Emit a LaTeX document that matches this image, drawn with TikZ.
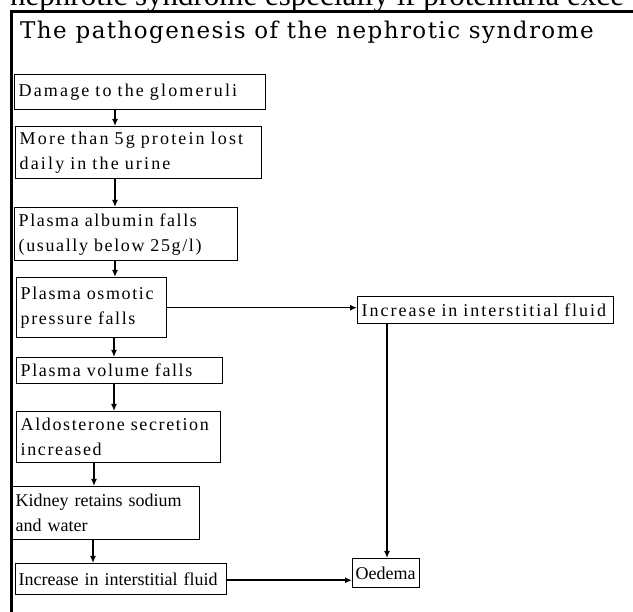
\documentclass[tikz,border=0pt]{standalone}
\usepackage{fontspec}
\setmainfont{Liberation Serif}
\newfontfamily\titlefont[LetterSpace=6.3]{DejaVu Serif}
\newfontfamily\boxfont{Liberation Serif}
\newfontfamily\boxwide[LetterSpace=9]{Liberation Serif}
\newfontfamily\boxwider[LetterSpace=12]{Liberation Serif}
\newfontfamily\boxright[LetterSpace=11]{Liberation Serif}
\usetikzlibrary{arrows.meta}
\begin{document}
\begin{tikzpicture}[x=1pt,y=-1pt,
  box/.style={draw=black, line width=1.4pt, anchor=north west, inner ysep=0pt, inner xsep=4pt,
    align=left, font=\boxfont\fontsize{18}{25}\selectfont},
  wide/.style={font=\boxwide\fontsize{18}{25}\selectfont},
  wider/.style={font=\boxwider\fontsize{18}{25}\selectfont},
  rightfont/.style={font=\boxright\fontsize{18}{25}\selectfont},
  arr/.style={line width=1.4pt, -{Latex[length=7pt,width=6pt]}},
  frame/.style={line width=2.5pt}]
\useasboundingbox (0,0) rectangle (633,612);
\clip (0,0) rectangle (633,612);
% cut-off text line at the top
\node[anchor=base west, inner sep=0pt, font=\fontsize{31}{36}\selectfont] (toptext) at (10,6)
  {nephrotic syndrome especially if proteinuria exce};
% frame
\draw[frame] (11.5,650) -- (11.5,11.5) -- (660,11.5);
% title
\node[anchor=base west, inner sep=0pt, font=\titlefont\fontsize{23}{27}\selectfont] (title) at (20,39)
  {The pathogenesis of the nephrotic syndrome};
% left column
\node[box, wider, text width=243pt, minimum height=35pt] (b1) at (14,74) {\mbox{Damage to the glomeruli}};
\node[box, wider, text width=238pt, minimum height=52pt] (b2) at (15,126) {\mbox{More than 5g protein lost}\\daily in the urine};
\node[box, wide, text width=215pt, minimum height=53pt] (b3) at (14,207) {Plasma albumin falls\\(usually below 25g/l)};
\node[box, wide, text width=142pt, minimum height=60pt] (b4) at (16,277) {\mbox{Plasma osmotic}\\pressure falls};
\node[box, wide, text width=198pt, minimum height=26pt] (b5) at (16,357) {Plasma volume falls};
\node[box, wide, text width=196pt, minimum height=51pt] (b6) at (16,411) {\mbox{Aldosterone secretion}\\increased};
\node[box, text width=180pt, minimum height=53pt] (b7) at (11,486) {\mbox{Kidney retains sodium}\\and water};
\node[box, inner xsep=3pt, text width=205pt, minimum height=31pt] (b8) at (15,563) {\mbox{Increase in interstitial fluid}};
% right column
\node[box, rightfont, text width=248pt, minimum height=27pt] (r1) at (357,296) {\mbox{Increase in interstitial fluid}};
\node[box, inner xsep=3pt, text width=61pt, minimum height=29pt] (r2) at (352,558) {Oedema};
% connectors
\draw[arr] ([xshift=101pt]b1.south west) -- ([xshift=101pt]b1.south west |- b2.north);
\draw[arr] ([xshift=100pt]b2.south west) -- ([xshift=100pt]b2.south west |- b3.north);
\draw[arr] ([xshift=101pt]b3.south west) -- ([xshift=101pt]b3.south west |- b4.north);
\draw[arr] ([xshift=98pt]b4.south west) -- ([xshift=98pt]b4.south west |- b5.north);
\draw[arr] ([xshift=98pt]b5.south west) -- ([xshift=98pt]b5.south west |- b6.north);
\draw[arr] ([xshift=78pt]b6.south west) -- ([xshift=78pt]b6.south west |- b7.north);
\draw[arr] ([xshift=82pt]b7.south west) -- ([xshift=82pt]b7.south west |- b8.north);
\draw[arr] (b4.east) -- (b4.east -| r1.west);
\draw[arr] ([yshift=-1pt]b8.east) -- ([yshift=-1pt]b8.east -| r2.west);
\draw[arr] ([xshift=30pt]r1.south west) -- ([xshift=30pt]r1.south west |- r2.north);
\end{tikzpicture}
\end{document}
